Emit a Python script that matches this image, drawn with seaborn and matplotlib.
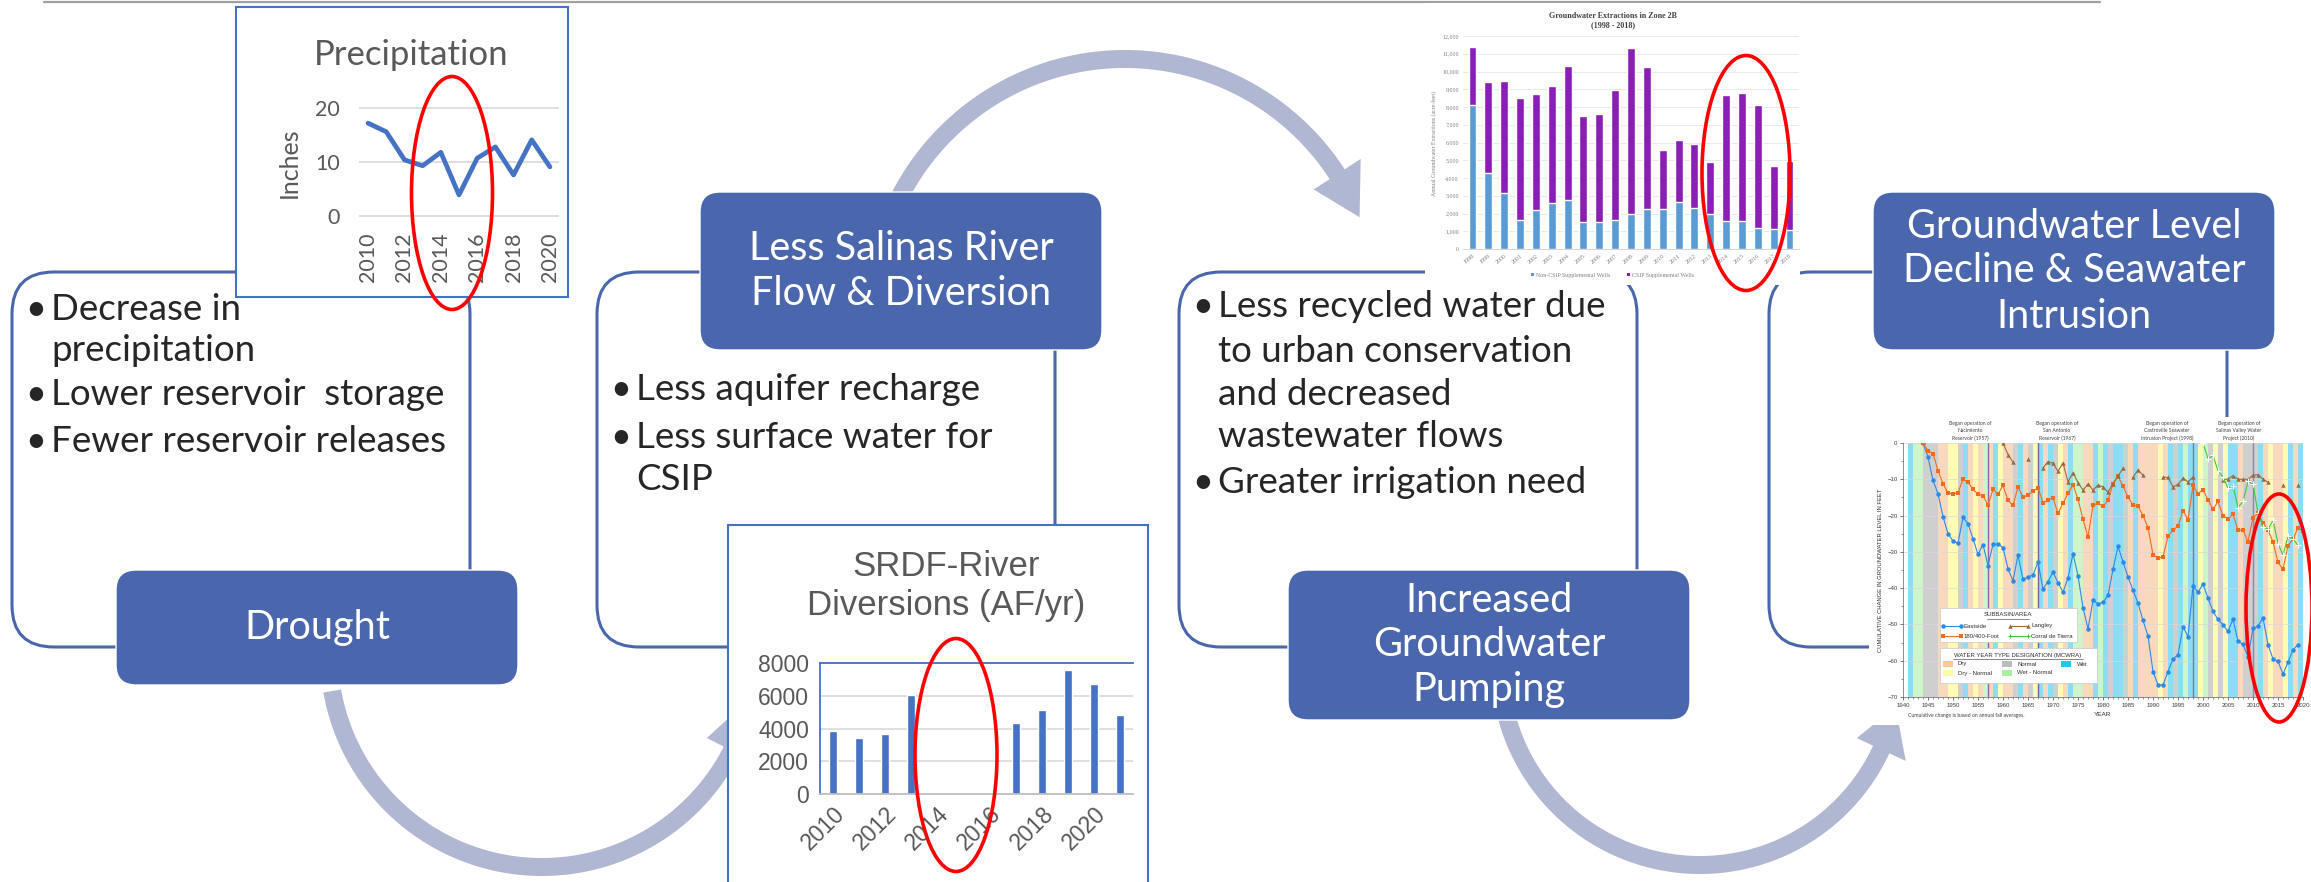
import matplotlib
matplotlib.use("Agg")
import numpy as np
import pandas as pd
import matplotlib.pyplot as plt
import seaborn as sns
from matplotlib.patches import FancyBboxPatch, Rectangle, Ellipse, Polygon
from matplotlib.ticker import FuncFormatter, MultipleLocator

# ---------------- data ----------------
precip_years = [2010, 2011, 2012, 2013, 2014, 2015, 2016, 2017, 2018, 2019, 2020]
precip_inches = [17.2, 15.6, 10.4, 9.3, 11.8, 3.9, 10.7, 12.8, 7.6, 14.1, 9.1]
precip_xticks = [2010, 2012, 2014, 2016, 2018, 2020]
precip_yticks = [0, 10, 20]

srdf_years = ["2010", "2011", "2012", "2013", "2014", "2015", "2016",
              "2017", "2018", "2019", "2020", "2021"]
srdf_af = [3850, 3450, 3650, 6050, 0, 0, 0, 4350, 5100, 7550, 6700, 4800]
srdf_yticks = [0, 2000, 4000, 6000, 8000]

ext_years = [str(y) for y in range(1998, 2019)]
ext_total = [11400, 9400, 9450, 8500, 8750, 9200, 10300, 7500, 7600, 8950,
             11300, 10250, 5550, 6150, 5900, 4900, 8650, 8800, 8100, 4700, 4950]
ext_non_csip = [8100, 4300, 3150, 1650, 2200, 2600, 2750, 1500, 1530, 1650,
                1950, 2250, 2250, 2650, 2300, 2000, 1550, 1600, 1200, 1100, 1050]

east_years = list(range(1944, 2020))
east_vals = [0, -3.9, -10.3, -14.0, -20.3, -25.0, -27.0, -27.6, -20.5, -22.2,
             -26.4, -30.7, -28.0, -33.8, -27.9, -27.9, -28.8, -34.7, -38.0, -30.9,
             -37.6, -36.9, -36.4, -32.8, -40.2, -38.2, -35.6, -38.5, -41.1, -37.2,
             -30.5, -36.6, -45.4, -51.2, -43.4, -44.3, -43.9, -42.0, -34.8, -28.5,
             -32.8, -36.9, -40.6, -44.1, -48.9, -53.2, -63.0, -66.7, -66.7, -63.0,
             -59.5, -58.4, -50.6, -53.4, -39.4, -41.1, -38.9, -42.7, -46.4, -48.6,
             -50.1, -51.9, -48.6, -54.6, -55.5, -58.9, -51.1, -50.5, -48.2, -55.6,
             -59.5, -60.2, -63.7, -60.4, -57.0, -55.6]
f180_years = list(range(1944, 2021))
f180_vals = [0, -2.1, -2.9, -7.6, -11.2, -13.8, -14.0, -13.7, -10.0, -10.8,
             -12.8, -14.1, -14.5, -17.1, -12.8, -14.1, -11.7, -15.8, -17.2, -12.1,
             -15.0, -14.3, -13.3, -12.4, -16.4, -15.7, -15.1, -19.4, -16.6, -13.9,
             -11.5, -15.5, -21.0, -25.9, -17.2, -16.6, -17.5, -15.8, -11.3, -9.2,
             -11.9, -14.9, -17.1, -17.4, -20.0, -23.3, -30.8, -31.7, -31.4, -25.7,
             -24.0, -22.9, -18.7, -21.1, -11.7, -14.0, -12.9, -15.6, -18.3, -16.1,
             -20.1, -20.9, -19.6, -24.0, -24.0, -27.2, -20.6, -19.4, -22.0, -24.0,
             -27.2, -32.9, -34.8, -28.3, -26.5, -23.4, -24.3]
langley_years = [1960, 1961, 1962, 1965,
                 1968, 1969, 1970, 1971, 1972, 1973, 1974, 1975, 1976, 1977, 1978,
                 1979, 1980, 1981, 1982, 1983, 1984,
                 1986, 1987, 1988,
                 1992, 1993, 1994, 1995, 1996, 1997, 1998,
                 2004, 2005, 2006, 2007, 2008, 2009, 2010, 2011, 2012, 2013,
                 2016, 2019]
langley_vals = [0, -3.2, -5.3, -4.3,
                -6.9, -5.1, -5.6, -7.8, -5.5, -10.7, -8.2, -10.9, -13.0, -11.3, -13.0,
                -11.6, -12.1, -13.5, -11.2, -9.1, -7.0,
                -9.5, -7.4, -8.9,
                -9.4, -9.5, -12.1, -11.4, -9.7, -10.7, -9.4,
                -10.1, -9.9, -9.0, -10.0, -10.0, -10.0, -8.9, -8.7, -10.0, -10.8,
                -11.7, -11.7]
langley_seg = [1, 1, 1, 2] + [3] * 17 + [4] * 3 + [5] * 7 + [6] * 10 + [7, 8]
corral_years = list(range(2000, 2020))
corral_vals = [0, -4.3, -3.4, -7.7, -9.4, -12.4, -11.8, -17.8, -16.1, -10.6,
               -11.3, -19.3, -23.1, -23.8, -21.3, -27.7, -30.9, -25.7, -26.5, -28.2]
wy_years = list(range(1941, 2020))
wy_types = ("W WN WN N N N D D DN DN N W D DN D WN D W DN D D N W D N DN W D W N "
            "DN D W WN WN D D W WN W N W W N D W D D D D DN D W N W WN W W DN WN "
            "N DN N DN W W D N N N W D DN D D DN W D W").split()
ops_years = [1957, 1967, 1998, 2010]

# ---------------- figure ----------------
W, H = 2311, 882
sns.set_theme(style="white")
plt.rcParams['font.family'] = ['Lato', 'DejaVu Sans']
fig = plt.figure(figsize=(W / 100, H / 100), dpi=100)

BLUE = "#4A66AC"
ARROW = "#AFB7D3"
GREY_TXT = "#595959"


def frac(x0, y0, x1, y1):
    return [x0 / W, 1 - y1 / H, (x1 - x0) / W, (y1 - y0) / H]


bg = fig.add_axes([0, 0, 1, 1], zorder=0)
bg.set_xlim(0, W); bg.set_ylim(H, 0); bg.axis("off")
ov = fig.add_axes([0, 0, 1, 1], zorder=10)
ov.set_xlim(0, W); ov.set_ylim(H, 0); ov.axis("off")
ov.patch.set_alpha(0)

# top rule
bg.plot([44, 2100], [1.5, 1.5], color="#A0A0A0", lw=1.6, zorder=1)


def arc_arrow(cx, cy, R, w, a0, a1, head_w, head_deg):
    sgn = np.sign(a1 - a0)
    ae = a1 - sgn * head_deg
    t = np.radians(np.linspace(a0, ae, 200))
    outer = np.c_[cx + (R + w / 2) * np.cos(t), cy + (R + w / 2) * np.sin(t)]
    inner = np.c_[cx + (R - w / 2) * np.cos(t), cy + (R - w / 2) * np.sin(t)][::-1]
    te, tt = np.radians(ae), np.radians(a1)
    wo = [cx + (R + head_w / 2) * np.cos(te), cy + (R + head_w / 2) * np.sin(te)]
    wi = [cx + (R - head_w / 2) * np.cos(te), cy + (R - head_w / 2) * np.sin(te)]
    tip = [cx + R * np.cos(tt), cy + R * np.sin(tt)]
    pts = np.vstack([outer, [wo, tip, wi], inner])
    bg.add_patch(Polygon(pts, closed=True, fc=ARROW, ec="none", zorder=2))


arc_arrow(542, 654, 213, 18, 170, 12, 56, 15)
arc_arrow(1125, 312, 253, 18, -158, -22, 56, 11)
arc_arrow(1700, 665, 200, 18, 178, 12, 54, 13)

# outlines
for x0 in [12, 597, 1179, 1769]:
    bg.add_patch(FancyBboxPatch((x0, 272), 458, 375,
                                boxstyle="round,pad=0,rounding_size=42",
                                fc="none", ec=BLUE, lw=2.2, zorder=3))

# blue label boxes
boxes = [
    ((116, 570, 402, 115), ["Drought"]),
    ((700, 192, 402, 158), ["Less Salinas River", "Flow & Diversion"]),
    ((1288, 570, 402, 150), ["Increased", "Groundwater", "Pumping"]),
    ((1873, 192, 402, 158), ["Groundwater Level", "Decline & Seawater", "Intrusion"]),
]
for (x, y, w, h), lines in boxes:
    bg.add_patch(FancyBboxPatch((x, y), w, h, boxstyle="round,pad=0,rounding_size=20",
                                fc=BLUE, ec="white", lw=1.0, zorder=4))
    n = len(lines)
    cy = y + h / 2
    for i, s in enumerate(lines):
        yy = cy + (i - (n - 1) / 2) * 45
        ov.text(x + w / 2, yy, s, color="white", fontsize=28.5, ha="center", va="center")

# bullets
bullet_groups = [
    (12, [(320, "Decrease in", True), (361, "precipitation", False),
          (405, "Lower reservoir  storage", True), (452, "Fewer reservoir releases", True)]),
    (597, [(400, "Less aquifer recharge", True), (448, "Less surface water for", True),
           (490, "CSIP", False)]),
    (1179, [(317, "Less recycled water due", True), (362, "to urban conservation", False),
            (405, "and decreased", False), (447, "wastewater flows", False),
            (493, "Greater irrigation need", True)]),
]
for x0, items in bullet_groups:
    for yb, s, b in items:
        if b:
            ov.text(x0 + 24, yb, "\u2022", fontsize=26, ha="center", va="baseline")
        ov.text(x0 + 39, yb, s, fontsize=26.5, ha="left", va="baseline")

# image backgrounds
bg.add_patch(Rectangle((236, 7), 332, 290, fc="white", ec="#4472C4", lw=1.5, zorder=5))
bg.add_patch(Rectangle((728, 525), 420, 400, fc="white", ec="#4472C4", lw=1.5, zorder=5))
bg.add_patch(Rectangle((1425, 3), 375, 282, fc="white", ec="none", zorder=5))
bg.add_patch(Rectangle((1869, 417), 442, 308, fc="white", ec="none", zorder=5))

# ---------------- precipitation ----------------
axp = fig.add_axes(frac(359, 107, 559, 217), zorder=2)
sns.lineplot(x=precip_years, y=precip_inches, color="#4472C4", lw=3.4, ax=axp)
axp.set_xlim(2009.5, 2020.5)
axp.set_ylim(-0.2, 20.2)
axp.set_yticks(precip_yticks)
axp.set_xticks(precip_xticks)
axp.set_xticklabels([str(v) for v in precip_xticks], rotation=90)
axp.yaxis.grid(True, color="#D9D9D9", lw=1.2)
axp.tick_params(axis="both", labelsize=15.5, colors=GREY_TXT, length=0)
axp.tick_params(axis="y", pad=14)
axp.tick_params(axis="x", pad=11)
for s in axp.spines.values():
    s.set_visible(False)
axp.patch.set_alpha(0)
ov.text(411, 55, "Precipitation", fontsize=25, color=GREY_TXT, ha="center", va="center")
ov.text(289, 163, "Inches", fontsize=18, color=GREY_TXT, ha="center", va="center", rotation=90)

# ---------------- SRDF ----------------
axs = fig.add_axes(frac(820, 663, 1133, 794), zorder=2)
sns.barplot(x=srdf_years, y=srdf_af, color="#4472C4", saturation=1, width=0.3,
            errorbar=None, ax=axs)
axs.set_ylim(0, 8000)
axs.set_xlim(-0.5, len(srdf_years) - 0.5)
axs.set_yticks(srdf_yticks)
axs.set_xticks(range(0, len(srdf_years), 2))
axs.set_xticklabels(srdf_years[::2], rotation=45, ha="right", rotation_mode="anchor")
axs.yaxis.grid(True, color="#D9D9D9", lw=1.2)
axs.set_axisbelow(True)
axs.set_xlabel(""); axs.set_ylabel("")
axs.tick_params(axis="both", labelsize=16.5, colors=GREY_TXT, length=0)
for lab in axs.get_xticklabels() + axs.get_yticklabels():
    lab.set_fontfamily("Liberation Sans")
axs.tick_params(axis="y", pad=8)
axs.tick_params(axis="x", pad=6)
for k in ["top", "left"]:
    axs.spines[k].set_color("#4472C4"); axs.spines[k].set_linewidth(1.3)
axs.spines["right"].set_visible(False)
axs.spines["bottom"].set_color("#BFBFBF"); axs.spines["bottom"].set_linewidth(1.3)
ov.text(946, 567, "SRDF-River", fontsize=25, color=GREY_TXT, ha="center", va="center",
        family="Liberation Sans")
ov.text(946, 605, "Diversions (AF/yr)", fontsize=25, color=GREY_TXT, ha="center", va="center",
        family="Liberation Sans")

# ---------------- groundwater extractions ----------------
axe = fig.add_axes(frac(1463, 36, 1799, 249), zorder=2)
sns.barplot(x=ext_years, y=ext_total, color="#8A1FB8", saturation=1, width=0.5,
            errorbar=None, ax=axe)
sns.barplot(x=ext_years, y=ext_non_csip, color="#5B9BD5", saturation=1, width=0.5,
            errorbar=None, ax=axe)
axe.set_ylim(0, 12000)
axe.set_xlim(-0.6, len(ext_years) - 0.4)
axe.yaxis.set_major_locator(MultipleLocator(1000))
axe.yaxis.set_major_formatter(FuncFormatter(lambda v, p: f"{int(v):,}"))
axe.yaxis.grid(True, color="#E6E6E6", lw=0.6)
axe.set_axisbelow(True)
axe.set_xlabel(""); axe.set_ylabel("")
axe.tick_params(axis="both", labelsize=4.3, colors="#808080", length=0, pad=3)
plt.setp(axe.get_xticklabels(), rotation=40, ha="right", rotation_mode="anchor",
         family="Liberation Serif")
plt.setp(axe.get_yticklabels(), family="Liberation Serif")
for s in axe.spines.values():
    s.set_visible(False)
axe.spines["bottom"].set_visible(True); axe.spines["bottom"].set_color("#D0D0D0")
axe.spines["bottom"].set_linewidth(0.6)
ov.text(1613, 16, "Groundwater Extractions in Zone 2B", fontsize=5.8, weight="bold",
        color="#404040", ha="center", va="center", family="Liberation Serif")
ov.text(1613, 25, "(1998 - 2018)", fontsize=5.8, weight="bold",
        color="#404040", ha="center", va="center", family="Liberation Serif")
ov.text(1434, 143, "Annual Groundwater Extractions (acre-feet)", fontsize=4.2,
        color="#808080", ha="center", va="center", rotation=90, family="Liberation Serif")
ov.add_patch(Rectangle((1531, 273), 3, 3, fc="#5B9BD5", ec="none"))
ov.text(1536, 275, "Non-CSIP Supplemental Wells", fontsize=4.3, color="#808080",
        ha="left", va="center", family="Liberation Serif")
ov.add_patch(Rectangle((1627, 273), 3, 3, fc="#8A1FB8", ec="none"))
ov.text(1632, 275, "CSIP Supplemental Wells", fontsize=4.3, color="#808080",
        ha="left", va="center", family="Liberation Serif")

# ---------------- groundwater level ----------------
axg = fig.add_axes(frac(1903, 443, 2303, 697), zorder=2)
wy_color = {"D": "#F9D9BE", "DN": "#FFFBB4", "N": "#CFCFCF", "W": "#8ADDF3", "WN": "#CDF5C9"}
for yr, tp in zip(wy_years, wy_types):
    axg.axvspan(yr, yr + 1, color=wy_color[tp], lw=0, zorder=0)
for yr, c in zip(ops_years, ["#A05AA8", "#7A5FA6", "#8B6FA0", "#8D86A8"]):
    axg.axvline(yr, color=c, lw=1.0, zorder=1)
axg.yaxis.grid(True, color="#D8D8D8", lw=0.5, zorder=0.5)
sns.lineplot(x=east_years, y=east_vals, color="#2A8AE8", marker="o", markersize=3.2,
             markeredgewidth=0, lw=0.8, ax=axg, zorder=3)
sns.lineplot(x=f180_years, y=f180_vals, color="#F26A1B", marker="s", markersize=3.0,
             markeredgewidth=0, lw=0.8, ax=axg, zorder=3)
df_l = pd.DataFrame({"year": langley_years, "val": langley_vals, "seg": langley_seg})
sns.lineplot(data=df_l, x="year", y="val", units="seg", estimator=None, color="#9C6A3A",
             marker="^", markersize=3.2, markeredgewidth=0, lw=0.8, ax=axg, zorder=3)
sns.lineplot(x=corral_years, y=corral_vals, color="#3CC83C", marker="+", markersize=4,
             markeredgewidth=0.8, lw=0.8, ax=axg, zorder=3)
axg.set_xlim(1940, 2020)
axg.set_ylim(-70, 0)
axg.set_xticks(range(1940, 2021, 5))
axg.set_yticks(range(-70, 1, 10))
axg.xaxis.set_minor_locator(MultipleLocator(1))
axg.yaxis.set_minor_locator(MultipleLocator(5))
axg.set_xlabel(""); axg.set_ylabel("")
axg.tick_params(axis="both", which="major", labelsize=4.3, colors="#404040", length=2.5,
                width=0.5, direction="out", pad=1.5)
axg.tick_params(axis="both", which="minor", length=1.5, width=0.4, colors="#404040",
                direction="out")
axg.tick_params(bottom=True, left=True, which="both")
plt.setp(axg.get_xticklabels() + axg.get_yticklabels(), family="Liberation Sans")
for k in ["top", "right"]:
    axg.spines[k].set_visible(False)
for k in ["left", "bottom"]:
    axg.spines[k].set_color("#606060"); axg.spines[k].set_linewidth(0.5)

ann = [(1970, ["Began operation of", "Nacimiento", "Reservoir (1957)"]),
       (2057, ["Began operation of", "San Antonio", "Reservoir (1967)"]),
       (2167, ["Began operation of", "Castroville Seawater", "Intrusion Project (1998)"]),
       (2239, ["Began operation of", "Salinas Valley Water", "Project (2010)"])]
for x, lines in ann:
    for i, s in enumerate(lines):
        ov.text(x, 423 + i * 7.6, s, fontsize=3.6, color="#404040", ha="center", va="center")
ov.text(1880, 570, "CUMULATIVE CHANGE IN GROUNDWATER LEVEL IN FEET", fontsize=4.2,
        color="#303030", rotation=90, ha="center", va="center", family="Liberation Sans")
ov.text(2102, 714, "YEAR", fontsize=4.6, color="#303030", ha="center", va="center",
        family="Liberation Sans")
ov.text(1908, 716, "Cumulative change is based on annual fall averages.", fontsize=3.7,
        color="#404040", ha="left", va="center")

# legend boxes of level chart
ov.add_patch(Rectangle((1940, 608), 137, 34, fc="white", ec="#C8C8C8", lw=0.5))
ov.text(2008, 615, "SUBBASIN/AREA", fontsize=4.3, color="#303030", ha="center", va="center",
        family="Liberation Sans")
ov.plot([1987, 2029], [618.5, 618.5], color="#303030", lw=0.4)
leg = [(1943, 626, "#2A8AE8", "o", "Eastside"), (2010, 626, "#9C6A3A", "^", "Langley"),
       (1943, 636, "#F26A1B", "s", "180/400-Foot"), (2010, 636, "#3CC83C", "+", "Corral de Tierra")]
for x, y, c, m, s in leg:
    ov.plot([x, x + 18], [y, y], color=c, lw=0.8)
    ov.plot([x, x + 18], [y, y], color=c, lw=0, marker=m, markersize=3.2,
            markeredgewidth=0.8 if m == "+" else 0)
    ov.text(x + 21, y, s, fontsize=4.3, color="#303030", ha="left", va="center",
            family="Liberation Sans")
ov.add_patch(Rectangle((1940, 648), 157, 35, fc="white", ec="#C8C8C8", lw=0.5))
ov.text(2018, 655, "WATER YEAR TYPE DESIGNATION (MCWRA)", fontsize=4.3, color="#303030",
        ha="center", va="center", family="Liberation Sans")
ov.plot([1953, 2083], [658.5, 658.5], color="#303030", lw=0.4)
wleg = [(1943, 664, "D", "Dry"), (2002, 664, "N", "Normal"), (2061, 664, "W", "Wet"),
        (1943, 673, "DN", "Dry - Normal"), (2002, 673, "WN", "Wet - Normal")]
wy_leg_color = {"D": "#F9C99E", "DN": "#FFFBA0", "N": "#BDBDBD", "W": "#1EC8F0", "WN": "#A6F2A0"}
for x, y, t, s in wleg:
    ov.add_patch(Rectangle((x, y - 3), 10, 6, fc=wy_leg_color[t], ec="none"))
    ov.text(x + 15 if t != "W" else x + 16, y, s, fontsize=4.3, color="#303030",
            ha="left", va="center", family="Liberation Sans")

# red ellipses
for cx, cy, w, h in [(452, 193, 81, 233), (956, 755, 82, 233),
                     (1746, 173, 88, 235), (2279, 608, 66, 228)]:
    ov.add_patch(Ellipse((cx, cy), w, h, fc="none", ec="#FF0000", lw=2.6, zorder=20))

fig.savefig("out.png", dpi=100)
